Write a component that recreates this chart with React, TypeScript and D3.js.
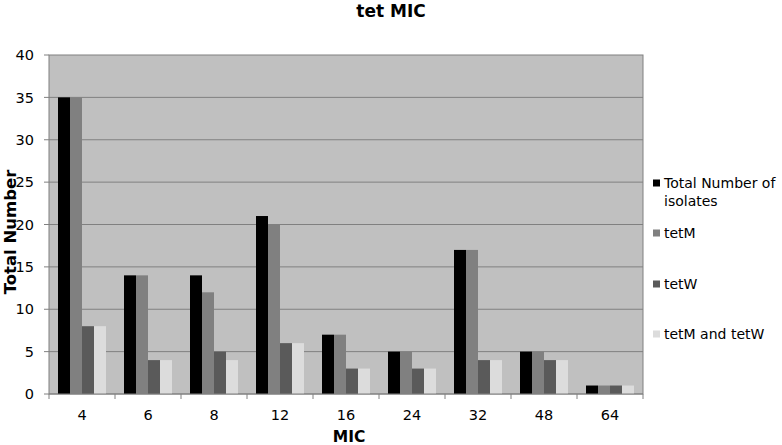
import React from "react";
import * as d3 from "d3";

const categories = ["4", "6", "8", "12", "16", "24", "32", "48", "64"];
const seriesNames = ["Total Number of isolates", "tetM", "tetW", "tetM and tetW"];
const totalIsolates = [35, 14, 14, 21, 7, 5, 17, 5, 1];
const tetM = [35, 14, 12, 20, 7, 5, 17, 5, 1];
const tetW = [8, 4, 5, 6, 3, 3, 4, 4, 1];
const tetMandW = [8, 4, 4, 6, 3, 3, 4, 4, 1];
const yTicks = [0, 5, 10, 15, 20, 25, 30, 35, 40];
const colors = ["#000000", "#808080", "#5a5a5a", "#dcdcdc"];

const W = 782;
const H = 445;
const M = { left: 49, right: 643, top: 55, bottom: 394 };
const FONT = "DejaVu Sans, Verdana, sans-serif";

export default function App() {
  const series = [totalIsolates, tetM, tetW, tetMandW];
  const x = d3.scaleBand<string>().domain(categories).range([M.left, M.right]).paddingInner(0).paddingOuter(0);
  const inner = d3
    .scaleBand<number>()
    .domain(d3.range(series.length))
    .range([0, x.bandwidth()])
    .paddingOuter(0.75)
    .paddingInner(0);
  const y = d3.scaleLinear().domain([0, 40]).range([M.bottom, M.top]);

  return (
    <svg width={W} height={H} style={{ position: "absolute", left: 0, top: 0 }} fontFamily={FONT}>
      <rect x={0} y={0} width={W} height={H} fill="#ffffff" />
      <text x={391} y={17} textAnchor="middle" fontSize={17} fontWeight="bold" fill="#000">
        tet MIC
      </text>
      <rect x={M.left} y={M.top} width={M.right - M.left} height={M.bottom - M.top} fill="#c0c0c0" stroke="#808080" strokeWidth={1} />
      {yTicks.map((t) => (
        <g key={t}>
          {t > 0 && t < 40 && (
            <line x1={M.left} x2={M.right} y1={y(t)} y2={y(t)} stroke="#808080" strokeWidth={1} />
          )}
          <line x1={M.left - 5} x2={M.left} y1={y(t)} y2={y(t)} stroke="#808080" />
          <text x={34} y={y(t)} dy="0.36em" textAnchor="end" fontSize={14.5} fill="#000">
            {t}
          </text>
        </g>
      ))}
      {categories.map((c, i) =>
        series.map((s, j) => (
          <rect
            key={c + "-" + j}
            x={(x(c) as number) + (inner(j) as number)}
            y={y(s[i])}
            width={inner.bandwidth()}
            height={M.bottom - y(s[i])}
            fill={colors[j]}
          />
        ))
      )}
      <line x1={M.left} x2={M.right} y1={M.bottom} y2={M.bottom} stroke="#808080" />
      {categories.map((c) => (
        <line key={"t" + c} x1={x(c)} x2={x(c)} y1={M.bottom} y2={M.bottom + 5} stroke="#808080" />
      ))}
      <line x1={M.right} x2={M.right} y1={M.bottom} y2={M.bottom + 5} stroke="#808080" />
      {categories.map((c) => (
        <text key={"l" + c} x={(x(c) as number) + x.bandwidth() / 2} y={415} dy="0.36em" textAnchor="middle" fontSize={14.5} fill="#000">
          {c}
        </text>
      ))}
      <text x={349} y={436} dy="0.36em" textAnchor="middle" fontSize={15.5} fontWeight="bold" fill="#000">
        MIC
      </text>
      <text
        transform={`translate(10,232) rotate(-90)`}
        dy="0.36em"
        textAnchor="middle"
        fontSize={16.5}
        fontWeight="bold"
        fill="#000"
      >
        Total Number
      </text>
      {[
        { lines: ["Total Number of", "isolates"], y: 183 },
        { lines: ["tetM"], y: 233 },
        { lines: ["tetW"], y: 284 },
        { lines: ["tetM and tetW"], y: 334 },
      ].map((item, i) => (
        <g key={seriesNames[i]}>
          <rect x={653} y={item.y - 3.5} width={7} height={7} fill={colors[i]} />
          {item.lines.map((ln, k) => (
            <text key={k} x={664} y={item.y + k * 18} dy="0.36em" fontSize={14} fill="#000">
              {ln}
            </text>
          ))}
        </g>
      ))}
    </svg>
  );
}
